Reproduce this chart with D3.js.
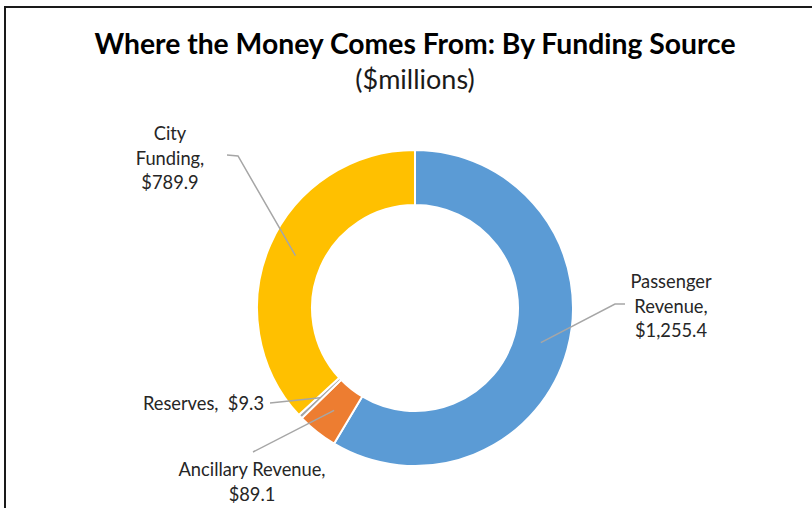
<!DOCTYPE html>
<html>
<head>
<meta charset="utf-8">
<script src="https://cdn.jsdelivr.net/npm/d3@7"></script>
<style>
  html, body { margin: 0; padding: 0; background: #fff; }
  #chart { width: 812px; height: 508px; }
  text { font-family: Lato, "Open Sans", sans-serif; white-space: pre; }
</style>
</head>
<body>
<div id="chart"></div>
<script>
// ||================================||
// || DATA                           ||
// ||================================||

var categories = ["Passenger Revenue", "Ancillary Revenue", "Reserves", "City Funding"];
var amounts = [1255.4, 89.1, 9.3, 789.9];
var sliceColors = ["#5B9BD5", "#ED7D31", "#A5A5A5", "#FFC000"];
var labelLines = [
  ["Passenger", "Revenue,", "$1,255.4"],
  ["Ancillary Revenue,", "$89.1"],
  ["Reserves,  $9.3"],
  ["City", "Funding,", "$789.9"]
];

// label placement (pixels), leader elbow + text anchor
var labelPos = [
  {tx: 671, ty: 282, elbow: [615, 304], end: [625, 304], anchor: "middle"},
  {tx: 252, ty: 470, elbow: null, end: [253, 452], anchor: "middle"},
  {tx: 264, ty: 404, elbow: null, end: [270, 403], anchor: "end"},
  {tx: 170, ty: 134, elbow: [238, 156], end: [227, 155], anchor: "middle"}
];

var width = 812,
    height = 508;

var cx = 415, cy = 308,
    outerR = 158, innerR = 103;

var svg = d3.select("#chart")
  .append("svg")
    .attr("width", width)
    .attr("height", height);

// chart frame
svg.append("rect")
    .attr("x", 5)
    .attr("y", 7)
    .attr("width", width + 10)
    .attr("height", height + 10)
    .attr("fill", "white")
    .attr("stroke", "#1a1a1a")
    .attr("stroke-width", 2);

svg.append("text")
    .attr("x", 415)
    .attr("y", 54)
    .attr("text-anchor", "middle")
    .attr("font-size", 28.3)
    .attr("font-weight", "bold")
    .attr("fill", "#000")
    .text("Where the Money Comes From: By Funding Source");

svg.append("text")
    .attr("x", 415)
    .attr("y", 89)
    .attr("text-anchor", "middle")
    .attr("font-size", 27)
    .attr("fill", "#1a1a1a")
    .text("($millions)");

var data = categories.map(function(c, i) {
  return {name: c, value: amounts[i], color: sliceColors[i], lines: labelLines[i], pos: labelPos[i]};
});

var pie = d3.pie()
    .sort(null)
    .value(function(d) { return d.value; });

var arc = d3.arc()
    .innerRadius(innerR)
    .outerRadius(outerR);

var arcs = pie(data);

var g = svg.append("g")
    .attr("transform", "translate(" + cx + "," + cy + ")");

g.selectAll("path.slice")
  .data(arcs)
  .enter().append("path")
    .attr("class", "slice")
    .attr("d", arc)
    .attr("fill", function(d) { return d.data.color; })
    .attr("stroke", "white")
    .attr("stroke-width", 2)
    .attr("stroke-linejoin", "miter");

// leader lines from slice centroid
var leaders = svg.append("g");
arcs.forEach(function(d) {
  var c = arc.centroid(d);
  var p = d.data.pos;
  var pts = [[cx + c[0], cy + c[1]]];
  if (p.elbow) pts.push(p.elbow);
  pts.push(p.end);
  leaders.append("path")
      .attr("d", d3.line()(pts))
      .attr("fill", "none")
      .attr("stroke", "#a6a6a6")
      .attr("stroke-width", 1.5);
});

var labels = svg.append("g");
arcs.forEach(function(d) {
  var p = d.data.pos;
  var t = labels.append("text")
      .attr("text-anchor", p.anchor)
      .attr("font-size", 18.3)
      .attr("fill", "#262626");
  d.data.lines.forEach(function(line, i) {
    t.append("tspan")
        .attr("x", p.tx)
        .attr("y", p.ty + i * 24.5)
        .attr("dy", "0.35em")
        .text(line);
  });
});
</script>
</body>
</html>
